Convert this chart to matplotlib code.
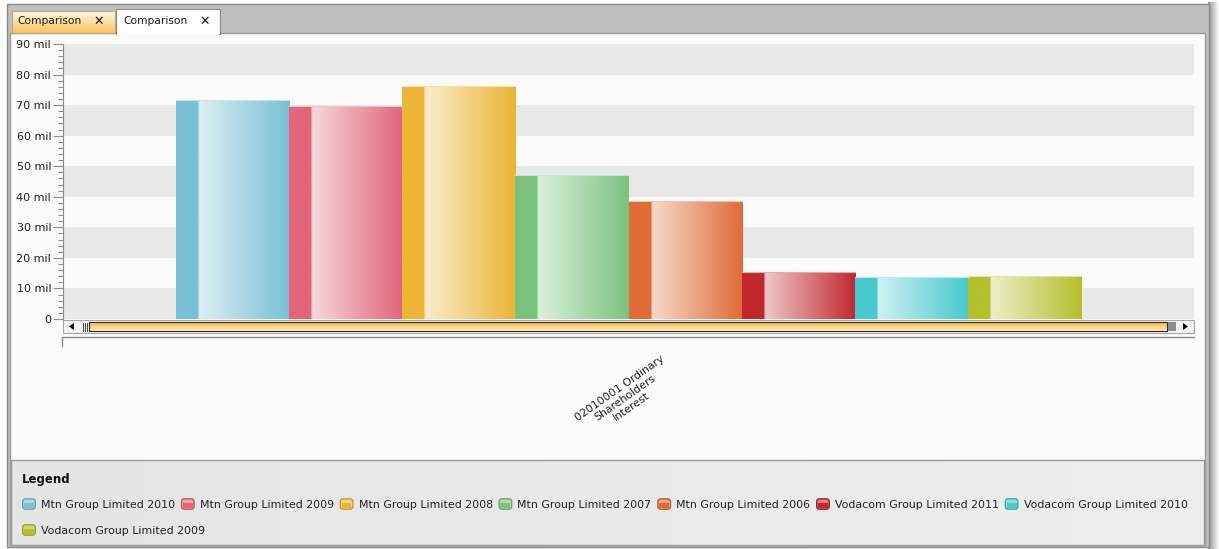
import numpy as np
import matplotlib
matplotlib.use('Agg')
import matplotlib.pyplot as plt
from matplotlib.patches import Rectangle, FancyBboxPatch, Polygon
from matplotlib.colors import to_rgb
from matplotlib.legend_handler import HandlerBase
from matplotlib.ticker import MultipleLocator, FuncFormatter
from matplotlib.transforms import offset_copy

# data (values in millions)
category = '02010001 Ordinary\nShareholders\nInterest'
series = ['Mtn Group Limited 2010', 'Mtn Group Limited 2009', 'Mtn Group Limited 2008',
          'Mtn Group Limited 2007', 'Mtn Group Limited 2006', 'Vodacom Group Limited 2011',
          'Vodacom Group Limited 2010', 'Vodacom Group Limited 2009']
values = [71.7, 69.8, 76.2, 47.1, 38.6, 15.5, 13.6, 14.1]
colors = ['#78c0d4', '#e2657a', '#ebb535', '#7ac37e', '#df6c35', '#c0282e', '#47c9ce', '#b5bf2a']
tab_titles = ['Comparison', 'Comparison']

W, H = 1219, 549
fig = plt.figure(figsize=(W / 100, H / 100), dpi=100)
fig.patch.set_facecolor('white')

# background "window" drawn in pixel coords
bg = fig.add_axes([0, 0, 1, 1], zorder=0)
bg.set_xlim(0, W)
bg.set_ylim(H, 0)
bg.axis('off')

z = [1]


def nz():
    z[0] += 1
    return z[0]


def grad(ax, x0, x1, y0, y1, c0, c1, horizontal=False):
    t = np.linspace(0, 1, 256)
    a, b = np.array(to_rgb(c0)), np.array(to_rgb(c1))
    img = a[None, :] * (1 - t[:, None]) + b[None, :] * t[:, None]
    img = img[None, :, :] if horizontal else img[:, None, :]
    return ax.imshow(img, extent=(x0, x1, y1, y0), aspect='auto', interpolation='bilinear', zorder=nz())


def box(x, y, w, h, **kw):
    bg.add_patch(Rectangle((x, y), w, h, zorder=nz(), **kw))


# right shadow and frame
grad(bg, 1208, 1219, 2, 549, '#8f8f8f', '#ffffff', horizontal=True)
box(7, 4, 1202, 543, facecolor='#bfbfbf', edgecolor='#8a8a8a', lw=1)
box(10, 33, 1195, 512, facecolor='#fbfbfb', edgecolor='#9a9a9a', lw=1)

# tabs
grad(bg, 12, 115, 11, 33, '#fff7e2', '#fbc45a')
box(12, 11, 103, 22, facecolor='none', edgecolor='#b8a888', lw=0.8)
box(116, 9, 104, 25, facecolor='white', edgecolor='#8a8a8a', lw=0.8)
box(116.6, 32, 102.8, 3, facecolor='white', lw=0)
for x, title in zip([17, 123], tab_titles):
    bg.text(x, 21.5, title, fontsize=7.7, color='#1a1a1a', va='center', ha='left', zorder=nz())
    bg.text(x + 82, 21.5, '✕', fontsize=9, color='#1a1a1a', va='center', ha='center',
            fontweight='bold', zorder=nz())

# legend panel
grad(bg, 11, 1204, 460, 545, '#e5e5e5', '#eeeeee', horizontal=True)
box(11, 460, 1193, 85, facecolor='none', edgecolor='#9a9a9a', lw=1)
bg.text(22, 479, 'Legend', fontsize=8.5, fontweight='bold', color='#111111', va='center', ha='left',
        zorder=nz())

# scrollbar under plot
box(63, 320, 1131, 13, facecolor='#f3f3f3', edgecolor='#a8a8a8', lw=0.8)
bg.add_patch(Polygon([(69, 326.5), (74, 323), (74, 330)], closed=True, facecolor='black', lw=0, zorder=nz()))
for gx in [83, 85, 87]:
    bg.plot([gx, gx], [322.5, 330.5], color='#444444', lw=0.7, zorder=nz())
grad(bg, 89, 1167, 322, 331, '#f5b535', '#fff0c8')
box(89, 322, 1078, 9, facecolor='none', edgecolor='#2b2b2b', lw=0.8)
box(1168, 322, 8, 9, facecolor='#8c8c8c', lw=0)
bg.add_patch(Polygon([(1188, 326.5), (1183, 323), (1183, 330)], closed=True, facecolor='black', lw=0, zorder=nz()))
bg.plot([62, 1194], [336.5, 336.5], color='#8c8c8c', lw=1, zorder=nz())
bg.plot([62, 62], [336.5, 346], color='#8c8c8c', lw=1, zorder=nz())

# main plot
ax = fig.add_axes([63 / W, (H - 319) / H, 1131 / W, 275 / H], zorder=1)
ax.set_facecolor('#fbfbfb')
for lo in range(0, 90, 20):
    ax.axhspan(lo, lo + 10, color='#e9e9e9', lw=0, zorder=0)

n = len(values)
width = 0.8 / n
xpos = (np.arange(n) - (n - 1) / 2) * width
bars = ax.bar(xpos, values, width=width, color=colors, lw=0, zorder=2)

for rect, c in zip(bars.patches, colors):
    c = np.array(to_rgb(c))
    light = c * 0.25 + 0.75
    m = 200
    t = np.linspace(0, 1, m)
    row = np.empty((m, 3))
    split = int(m * 0.195)
    row[:split] = c
    tt = (t[split:] - t[split]) / (1 - t[split])
    row[split:] = light[None, :] * (1 - tt[:, None]) + c[None, :] * tt[:, None]
    row[split:split + 2] = c * 0.5 + 0.5
    x0 = rect.get_x()
    im = ax.imshow(row[None, :, :], extent=(x0, x0 + rect.get_width(), 0, rect.get_height()),
                   aspect='auto', interpolation='bilinear', zorder=3)
    im.set_clip_path(rect)
    ax.plot([x0, x0 + rect.get_width()], [rect.get_height()] * 2, color=c * 0.4 + 0.6, lw=0.8, zorder=4)

ax.set_xlim(-0.5, 0.5)
ax.set_ylim(0, 90)
ax.yaxis.set_major_locator(MultipleLocator(10))
ax.yaxis.set_minor_locator(MultipleLocator(2))
ax.yaxis.set_major_formatter(FuncFormatter(lambda v, p: '0' if v == 0 else f'{v:g} mil'))
ax.tick_params(axis='y', which='major', length=7.5, width=0.8, color='#8c8c8c',
               labelsize=8, labelcolor='#222222', pad=1)
ax.tick_params(axis='y', which='minor', length=3.5, width=0.7, color='#8c8c8c')
ax.set_xticks([])
for s in ['top', 'right', 'bottom']:
    ax.spines[s].set_visible(False)
ax.spines['left'].set_color('#8c8c8c')
ax.spines['left'].set_linewidth(0.8)

lbl_tr = offset_copy(ax.get_xaxis_transform(), fig=fig, x=-3, y=-35, units='dots')
ax.text(0, 0, category, transform=lbl_tr, rotation=35, ha='center', va='top',
        multialignment='center', fontsize=7.8, linespacing=1.1, color='#222222')


class IconHandler(HandlerBase):
    def create_artists(self, legend, orig_handle, xdescent, ydescent, width, height, fontsize, trans):
        c = np.array(to_rgb(orig_handle.get_facecolor()))
        light = c * 0.6 + 0.4
        frame = FancyBboxPatch((-xdescent + 0.5, -ydescent + 0.5), width - 1, height - 1,
                               boxstyle='round,pad=0,rounding_size=2', facecolor=light,
                               edgecolor=c * 0.85, lw=1, transform=trans)
        band = Rectangle((-xdescent + 1.5, -ydescent + height * 0.2), width - 3, height * 0.38,
                         facecolor=c, lw=0, transform=trans)
        return [frame, band]


handler = {type(bars.patches[0]): IconHandler()}
common = dict(frameon=False, fontsize=7.93, handlelength=1.27, handleheight=1.27,
              handletextpad=0.45, columnspacing=0.52, borderpad=0, borderaxespad=0,
              loc='center left', handler_map=handler)
leg1 = fig.legend(bars.patches[:7], series[:7], ncol=7, bbox_to_anchor=(22 / W, 1 - 504 / H), **common)
leg2 = fig.legend(bars.patches[7:], series[7:], ncol=1, bbox_to_anchor=(22 / W, 1 - 530 / H), **common)
for leg in (leg1, leg2):
    for t in leg.get_texts():
        t.set_color('#222222')

fig.savefig('out.png', dpi=100)
